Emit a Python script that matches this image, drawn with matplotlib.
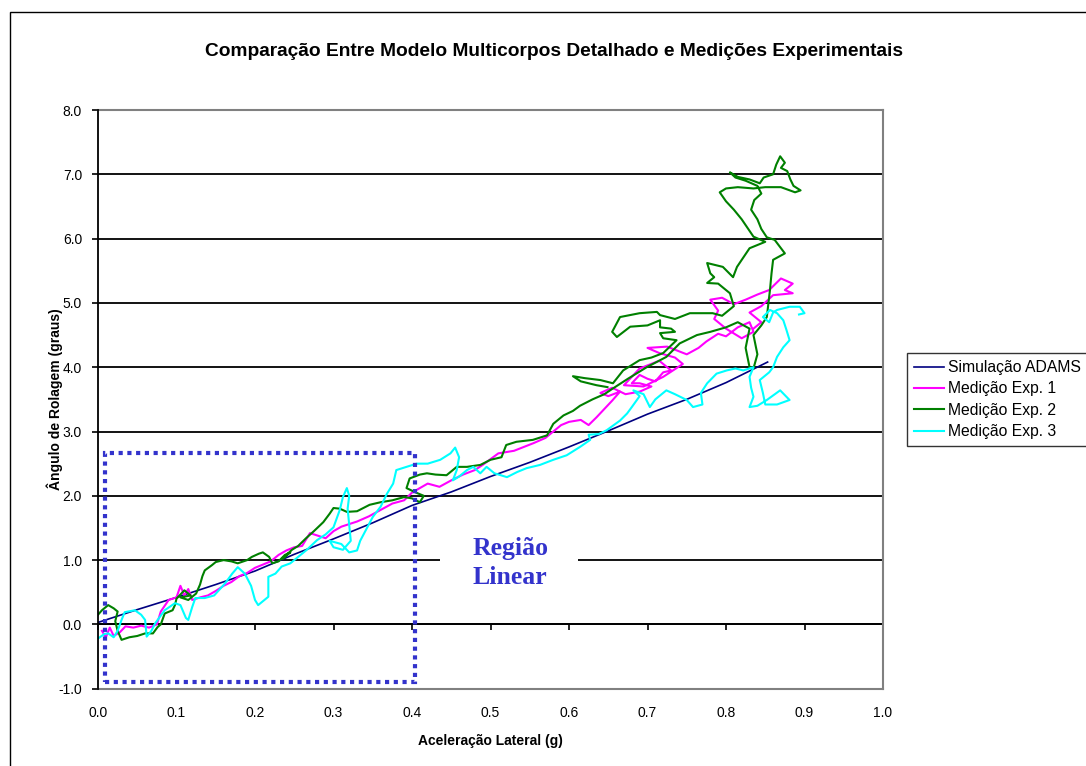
import matplotlib
matplotlib.use('Agg')
import matplotlib.pyplot as plt
from matplotlib.patches import Rectangle

plt.rcParams['font.family'] = ['Liberation Sans', 'DejaVu Sans']

# Simulação ADAMS
sim_x = [0.0, 0.05, 0.1, 0.15, 0.2, 0.25, 0.3, 0.35, 0.4, 0.45, 0.5, 0.55, 0.6, 0.65, 0.7, 0.75, 0.8, 0.853]
sim_y = [0.03, 0.23, 0.42, 0.62, 0.83, 1.09, 1.33, 1.58, 1.85, 2.06, 2.30, 2.52, 2.76, 3.01, 3.27, 3.50, 3.76, 4.08]

# Medição Exp. 1
exp1_x = [0.005, 0.010, 0.015, 0.020, 0.028, 0.035, 0.045, 0.055, 0.065, 0.075, 0.080, 0.090, 0.100, 0.105,
          0.110, 0.115, 0.120, 0.130, 0.140, 0.150, 0.160, 0.170, 0.180, 0.190, 0.200, 0.210, 0.220, 0.230,
          0.240, 0.250, 0.260, 0.270, 0.280, 0.290, 0.300, 0.310, 0.320, 0.330, 0.345, 0.360, 0.375, 0.390,
          0.400, 0.410, 0.420, 0.435, 0.450, 0.465, 0.480, 0.490, 0.510, 0.530, 0.555, 0.570, 0.580, 0.590,
          0.600, 0.615, 0.625, 0.635, 0.645, 0.655, 0.665, 0.650, 0.640, 0.655, 0.672, 0.690, 0.705, 0.690,
          0.680, 0.690, 0.700, 0.710, 0.720, 0.730, 0.715,
          0.690, 0.670, 0.695, 0.720, 0.745, 0.735, 0.715, 0.700, 0.725, 0.750, 0.765, 0.775, 0.790, 0.800,
          0.815, 0.830, 0.835, 0.820,
          0.800, 0.785, 0.790, 0.780, 0.795, 0.810, 0.825, 0.840, 0.855, 0.870, 0.885, 0.875, 0.885, 0.860,
          0.845, 0.830, 0.845, 0.835]
exp1_y = [-0.10, -0.20, -0.05, -0.18, -0.12, -0.03, -0.05, -0.02, -0.05, 0.00, 0.20, 0.38, 0.42, 0.60,
          0.45, 0.55, 0.38, 0.42, 0.45, 0.52, 0.60, 0.66, 0.75, 0.80, 0.88, 0.93, 0.98, 1.08,
          1.15, 1.20, 1.22, 1.42, 1.38, 1.34, 1.45, 1.52, 1.56, 1.60, 1.68, 1.78, 1.88, 1.93,
          2.05, 2.12, 2.19, 2.14, 2.24, 2.33, 2.40, 2.48, 2.66, 2.70, 2.82, 2.90, 3.00, 3.10,
          3.15, 3.18, 3.10, 3.22, 3.35, 3.48, 3.62, 3.55, 3.60, 3.68, 3.58, 3.62, 3.70, 3.75,
          3.75, 3.88, 3.82, 3.78, 3.92, 3.95, 4.10,
          3.98, 3.72, 3.70, 3.85, 4.05, 4.15, 4.22, 4.30, 4.32, 4.20, 4.30, 4.40, 4.52, 4.48,
          4.62, 4.70, 4.55, 4.45,
          4.60, 4.75, 4.88, 5.05, 5.08, 4.98, 5.05, 5.13, 5.20, 5.38, 5.30, 5.20, 5.15, 5.12,
          4.95, 4.85, 4.70, 4.60]

# Medição Exp. 2
exp2_x = [0.000, 0.005, 0.013, 0.020, 0.025, 0.022, 0.025, 0.030, 0.040, 0.050, 0.060, 0.070, 0.076, 0.080,
          0.085, 0.095, 0.098, 0.100, 0.110, 0.118, 0.105, 0.115, 0.125, 0.130, 0.133, 0.136, 0.145, 0.150,
          0.160, 0.170, 0.178, 0.190, 0.196, 0.205, 0.210, 0.218, 0.222, 0.230, 0.238, 0.245, 0.235, 0.247,
          0.255, 0.265, 0.275, 0.287, 0.295, 0.300, 0.308, 0.317, 0.330, 0.346, 0.360, 0.375, 0.390, 0.400,
          0.410, 0.415, 0.405, 0.393, 0.397, 0.410, 0.419, 0.430, 0.444, 0.457, 0.470, 0.487, 0.500, 0.514,
          0.520, 0.533, 0.554, 0.572, 0.580, 0.593, 0.605, 0.614, 0.630, 0.645, 0.656, 0.675, 0.699, 0.724,
          0.741, 0.763, 0.780, 0.800, 0.815, 0.830, 0.825, 0.830, 0.835, 0.840, 0.835, 0.845, 0.852, 0.854,
          0.856, 0.858, 0.860, 0.875, 0.862, 0.852, 0.845, 0.840, 0.832, 0.836, 0.845, 0.840, 0.825, 0.812,
          0.805, 0.815, 0.830, 0.843, 0.848, 0.860, 0.864, 0.869, 0.875, 0.870, 0.878, 0.882, 0.886, 0.895,
          0.888, 0.870, 0.850, 0.835, 0.815, 0.800, 0.792, 0.800, 0.810, 0.820, 0.830, 0.835, 0.850, 0.830,
          0.814, 0.809, 0.796, 0.776, 0.780, 0.785, 0.776, 0.790, 0.805, 0.810, 0.795, 0.783, 0.754, 0.735,
          0.716, 0.712, 0.690, 0.665, 0.655, 0.661, 0.678, 0.700, 0.716, 0.716, 0.730, 0.735, 0.716, 0.720,
          0.737, 0.720, 0.705, 0.690, 0.669, 0.656, 0.640, 0.620, 0.605, 0.615, 0.635, 0.649]
exp2_y = [0.15, 0.22, 0.30, 0.25, 0.20, 0.05, -0.10, -0.24, -0.20, -0.18, -0.14, -0.14, -0.04, 0.00,
          0.17, 0.22, 0.30, 0.40, 0.53, 0.45, 0.42, 0.38, 0.48, 0.62, 0.75, 0.84, 0.92, 0.97,
          1.00, 0.98, 0.95, 1.00, 1.05, 1.10, 1.12, 1.05, 0.95, 0.98, 1.08, 1.12, 1.02, 1.16,
          1.22, 1.34, 1.45, 1.59, 1.72, 1.81, 1.80, 1.75, 1.76, 1.86, 1.90, 1.93, 1.98, 1.96,
          1.90, 2.00, 2.05, 2.12, 2.27, 2.33, 2.35, 2.33, 2.32, 2.45, 2.45, 2.48, 2.56, 2.60,
          2.79, 2.84, 2.87, 2.94, 3.12, 3.25, 3.32, 3.40, 3.50, 3.58, 3.67, 3.82, 4.00, 4.16,
          4.37, 4.50, 4.55, 4.62, 4.70, 4.60, 4.30, 4.00, 3.98, 4.20, 4.50, 4.65, 4.78, 4.99,
          5.20, 5.46, 5.67, 5.77, 5.98, 6.02, 6.15, 6.30, 6.45, 6.60, 6.70, 6.82, 6.90, 6.95,
          7.03, 6.96, 6.92, 6.86, 6.95, 7.00, 7.15, 7.28, 7.18, 7.10, 7.05, 6.92, 6.82, 6.75,
          6.72, 6.80, 6.80, 6.78, 6.80, 6.78, 6.72, 6.58, 6.45, 6.30, 6.12, 6.03, 5.95, 5.85,
          5.56, 5.40, 5.56, 5.62, 5.46, 5.40, 5.31, 5.30, 5.15, 4.95, 4.80, 4.84, 4.84, 4.75,
          4.81, 4.86, 4.84, 4.78, 4.55, 4.47, 4.63, 4.65, 4.73, 4.62, 4.60, 4.55, 4.53, 4.45,
          4.42, 4.22, 4.15, 4.11, 3.95, 3.75, 3.80, 3.83, 3.86, 3.78, 3.72, 3.69]

# Medição Exp. 3
exp3_x = [0.000, 0.008, 0.013, 0.020, 0.025, 0.030, 0.034, 0.047, 0.055, 0.060, 0.062, 0.068, 0.073, 0.085,
          0.098, 0.105, 0.112, 0.115, 0.120, 0.124, 0.136, 0.148, 0.162, 0.171, 0.178, 0.187, 0.195, 0.200,
          0.204, 0.210, 0.217, 0.217, 0.226, 0.234, 0.245, 0.255, 0.266, 0.279, 0.290, 0.300, 0.308, 0.312,
          0.317, 0.320, 0.318, 0.320, 0.322, 0.312, 0.300, 0.295, 0.310, 0.320, 0.330, 0.334, 0.343, 0.350,
          0.360, 0.368, 0.376, 0.380, 0.393, 0.406, 0.420, 0.436, 0.449, 0.455, 0.460, 0.457, 0.452, 0.460,
          0.470, 0.478, 0.487, 0.495, 0.505, 0.521, 0.534, 0.546, 0.563, 0.580, 0.597, 0.614, 0.627, 0.625,
          0.638, 0.648, 0.665, 0.674, 0.680, 0.690, 0.682, 0.695, 0.703, 0.710, 0.724, 0.735, 0.750, 0.758,
          0.770, 0.768, 0.776, 0.788, 0.801, 0.812, 0.822, 0.835, 0.830, 0.832, 0.835, 0.830, 0.840, 0.852,
          0.869, 0.877, 0.881, 0.865, 0.850, 0.847, 0.843, 0.855, 0.860, 0.865, 0.873, 0.881, 0.877, 0.873,
          0.865, 0.856, 0.847, 0.855, 0.860, 0.865, 0.881, 0.894, 0.900, 0.893]
exp3_y = [-0.22, -0.15, -0.14, -0.20, -0.10, 0.07, 0.19, 0.22, 0.15, 0.07, -0.19, -0.10, 0.02, 0.22,
          0.33, 0.30, 0.10, 0.07, 0.27, 0.41, 0.41, 0.45, 0.64, 0.79, 0.89, 0.79, 0.60, 0.38,
          0.30, 0.36, 0.43, 0.74, 0.79, 0.90, 0.95, 1.05, 1.16, 1.31, 1.40, 1.51, 1.78, 1.98,
          2.12, 2.00, 1.80, 1.55, 1.30, 1.16, 1.20, 1.30, 1.25, 1.12, 1.15, 1.30, 1.51, 1.67,
          1.83, 2.03, 2.19, 2.40, 2.45, 2.50, 2.50, 2.56, 2.66, 2.75, 2.60, 2.40, 2.24, 2.30,
          2.40, 2.45, 2.35, 2.45, 2.35, 2.29, 2.37, 2.43, 2.48, 2.56, 2.63, 2.76, 2.87, 2.95,
          2.96, 3.02, 3.17, 3.28, 3.38, 3.55, 3.64, 3.58, 3.38, 3.50, 3.64, 3.58, 3.49, 3.38,
          3.42, 3.60, 3.75, 3.90, 3.95, 3.98, 3.95, 4.00, 3.85, 3.68, 3.54, 3.38, 3.40, 3.49,
          3.64, 3.54, 3.49, 3.42, 3.42, 3.60, 3.80, 3.92, 4.00, 4.16, 4.31, 4.42, 4.58, 4.73,
          4.84, 4.89, 4.78, 4.70, 4.85, 4.89, 4.94, 4.94, 4.84, 4.82]

x_ticks = [0.0, 0.1, 0.2, 0.3, 0.4, 0.5, 0.6, 0.7, 0.8, 0.9, 1.0]
y_ticks = [-1.0, 0.0, 1.0, 2.0, 3.0, 4.0, 5.0, 6.0, 7.0, 8.0]

W, H = 1086, 766
fig = plt.figure(figsize=(W / 100, H / 100), dpi=100)
ax = fig.add_axes([98 / W, 1 - 688.7 / H, 785 / W, 578.7 / H])

# outer chart border (cut by the image on the right and bottom)
fig.patches.append(Rectangle((10 / W, -0.1), 1.2, 1.1 - 12 / H, transform=fig.transFigure,
                             fill=False, edgecolor='black', linewidth=1.0))

ax.set_xlim(0, 1)
ax.set_ylim(-1, 8)

# horizontal gridlines
for v in y_ticks[1:-1]:
    ax.axhline(v, color='black', linewidth=1.3, zorder=1)

ax.plot(sim_x, sim_y, color='#000080', linewidth=1.2, label='Simulação ADAMS', zorder=3)
ax.plot(exp1_x, exp1_y, color='#FF00FF', linewidth=1.5, label='Medição Exp. 1', zorder=4)
ax.plot(exp2_x, exp2_y, color='#008000', linewidth=1.5, label='Medição Exp. 2', zorder=5)
ax.plot(exp3_x, exp3_y, color='#00FFFF', linewidth=1.5, label='Medição Exp. 3', zorder=6)

# spines
for s in ['top', 'right', 'bottom']:
    ax.spines[s].set_color('#808080')
    ax.spines[s].set_linewidth(1.5)
ax.spines['left'].set_color('black')
ax.spines['left'].set_linewidth(1.3)
ax.spines['left'].set_zorder(7)

ax.set_yticks(y_ticks)
ax.set_yticklabels([f'{v:.1f}' for v in y_ticks])
ax.tick_params(axis='y', direction='out', length=4.5, width=1.2, pad=7, labelsize=10)

ax.set_xticks(x_ticks)
ax.set_xticklabels([f'{v:.1f}' for v in x_ticks])
ax.tick_params(axis='x', length=0, pad=12.5, labelsize=10)

# x axis line crossing at zero
zero_axis = ax.secondary_xaxis(1 / 9)
zero_axis.set_xticks(x_ticks)
zero_axis.tick_params(axis='x', direction='out', length=4.5, width=1.2, labelbottom=False)
zero_axis.spines['bottom'].set_color('black')
zero_axis.spines['bottom'].set_linewidth(1.3)

ax.set_xlabel('Aceleração Lateral (g)', fontsize=10, fontweight='bold')
ax.xaxis.set_label_coords(0.5, -0.078)
ax.set_ylabel('Ângulo de Rolagem (graus)', fontsize=10, fontweight='bold')
ax.yaxis.set_label_coords(-0.045, 0.5)

fig.text(554 / W, 1 - 52 / H, 'Comparação Entre Modelo Multicorpos Detalhado e Medições Experimentais',
         ha='center', va='center', fontsize=13.8, fontweight='bold')

# Região Linear annotation
ax.add_patch(Rectangle((0.009, -0.89), 0.395, 3.56, fill=False, edgecolor='#3333CC',
                       linewidth=3.0, linestyle=(0, (1, 1.1)), zorder=8))
ax.add_patch(Rectangle((0.436, 0.55), 0.175, 0.9, facecolor='white', edgecolor='none', zorder=2))
ax.text(0.525, 0.95, 'Região\nLinear', ha='center', va='center', fontsize=18.5, fontweight='bold',
        family=['Liberation Serif', 'DejaVu Serif'], color='#3333CC', linespacing=1.35, zorder=9)

leg = ax.legend(loc='upper left', bbox_to_anchor=(906.7 / W, 1 - 353 / H), bbox_transform=fig.transFigure,
                frameon=True, fancybox=False, fontsize=11.3, handlelength=1.9, handletextpad=0.3,
                labelspacing=0.41, borderpad=0.45, borderaxespad=0.0)
leg.get_frame().set_edgecolor('black')
leg.get_frame().set_linewidth(1.0)

fig.savefig('out.png', dpi=100)
